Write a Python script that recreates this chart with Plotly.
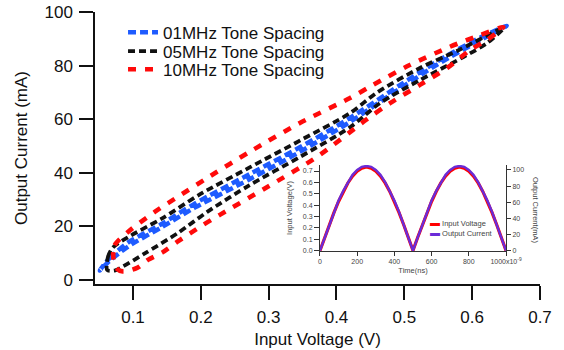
import plotly.graph_objects as go

# ---- Hysteresis loops: input voltage (V) vs output current (mA) ----
# each loop: upper branch left->right, then lower branch right->left
v01 = [0.051, 0.065, 0.093, 0.143, 0.191, 0.272, 0.346, 0.42, 0.494, 0.548, 0.612, 0.651,
       0.612, 0.548, 0.494, 0.42, 0.346, 0.272, 0.191, 0.143, 0.093, 0.065, 0.051]
i01 = [3.5, 8.0, 14.0, 21.0, 28.5, 39.5, 49.5, 60.5, 72.8, 81.5, 90.5, 94.8,
       89.5, 80.3, 71.5, 59.0, 47.8, 37.6, 27.0, 19.8, 12.5, 7.0, 3.5]

v05 = [0.062, 0.063, 0.07, 0.093, 0.143, 0.199, 0.272, 0.346, 0.42, 0.46, 0.523, 0.582, 0.646,
       0.622, 0.587, 0.523, 0.464, 0.42, 0.346, 0.272, 0.21, 0.166, 0.118, 0.085, 0.073, 0.062]
i05 = [3.7, 8.5, 12.0, 16.0, 23.0, 32.0, 42.0, 52.0, 62.3, 70.0, 79.1, 86.0, 94.0,
       88.4, 83.2, 74.6, 66.0, 57.0, 45.9, 35.4, 25.5, 17.5, 10.0, 5.0, 3.5, 3.7]

v10 = [0.071, 0.073, 0.093, 0.132, 0.172, 0.209, 0.272, 0.346, 0.42, 0.454, 0.508, 0.567, 0.612, 0.646,
       0.622, 0.597, 0.563, 0.523, 0.479, 0.445, 0.371, 0.298, 0.228, 0.203, 0.165, 0.144, 0.122,
       0.106, 0.085, 0.075, 0.071]
i10 = [8.6, 13.0, 18.0, 25.4, 32.0, 38.0, 47.8, 58.6, 67.9, 72.8, 80.2, 87.0, 91.4, 94.4,
       89.6, 85.8, 79.1, 72.8, 66.0, 60.0, 45.9, 34.7, 24.3, 20.5, 14.2, 10.4, 7.5,
       4.5, 3.2, 4.5, 8.6]

series_names = ["01MHz Tone Spacing", "05MHz Tone Spacing", "10MHz Tone Spacing"]

x_ticks = [0.1, 0.2, 0.3, 0.4, 0.5, 0.6, 0.7]
y_ticks = [0, 20, 40, 60, 80, 100]

# ---- Inset: time-domain waveforms ----
t_ns = [0, 25, 50, 75, 100, 125, 150, 175, 200, 225, 250, 275, 300, 325, 350, 375, 400, 425, 450, 475,
        500, 525, 550, 575, 600, 625, 650, 675, 700, 725, 750, 775, 800, 825, 850, 875, 900, 925, 950,
        975, 1000]
v_in = [0.0, 0.115, 0.227, 0.334, 0.432, 0.52, 0.595, 0.655, 0.699, 0.726, 0.735, 0.726, 0.699, 0.655,
        0.595, 0.52, 0.432, 0.334, 0.227, 0.115, 0.0, 0.115, 0.227, 0.334, 0.432, 0.52, 0.595, 0.655,
        0.699, 0.726, 0.735, 0.726, 0.699, 0.655, 0.595, 0.52, 0.432, 0.334, 0.227, 0.115, 0.0]
i_out = [0, 16, 32, 48, 62, 74, 85, 94, 100, 104, 105, 104, 100, 94, 85, 74, 62, 48, 32, 16,
         0, 16, 32, 48, 62, 74, 85, 94, 100, 104, 105, 104, 100, 94, 85, 74, 62, 48, 32, 16, 0]

t_ticks = [0, 200, 400, 600, 800, 1000]
t_labels = ["0", "200", "400", "600", "800", "1000x10<sup>-9</sup>"]
vin_ticks = [0.0, 0.1, 0.2, 0.3, 0.4, 0.5, 0.6, 0.7]
vin_labels = ["0.0", "0.1", "0.2", "0.3", "0.4", "0.5", "0.6", "0.7"]
iout_ticks = [0, 20, 40, 60, 80, 100]

FONT = "Liberation Sans, Arial, Helvetica, sans-serif"
AX = "#111111"
INSET_TXT = "#444444"
RED_IN = "#FF0000"
PURPLE_OUT = "#6A2BD8"

fig = go.Figure()

styles = [
    ("#1E5BFF", "8px,4px", 4.5, "legend"),
    ("#111111", "7px,4px", 3.8, "legend2"),
    ("#FF0A0A", "8px,9px", 4.6, "legend3"),
]
for name, xs, ys, (col, dash, w, lg) in zip(series_names, [v01, v05, v10], [i01, i05, i10], styles):
    fig.add_trace(go.Scatter(
        x=xs, y=ys, mode="lines", name=name, legend=lg,
        line=dict(color=col, dash=dash, width=w, shape="spline", smoothing=0.8),
        xaxis="x", yaxis="y",
    ))

fig.add_trace(go.Scatter(x=t_ns, y=v_in, mode="lines", name="Input Voltage", showlegend=False,
                         line=dict(color=RED_IN, width=3.2), xaxis="x2", yaxis="y2"))
fig.add_trace(go.Scatter(x=t_ns, y=i_out, mode="lines", name="Output Current", showlegend=False,
                         line=dict(color=PURPLE_OUT, width=2.4), xaxis="x2", yaxis="y3"))

legend_common = dict(x=0.063, xanchor="left", yanchor="middle", bgcolor="rgba(0,0,0,0)",
                     font=dict(family=FONT, size=17, color="#111"), itemwidth=30)

inset_key = (f"<span style='font-size:10px;color:{RED_IN}'>▬</span> Input Voltage<br>"
             f"<span style='font-size:10px;color:{PURPLE_OUT}'>▬</span> Output Current")

fig.update_layout(
    width=564, height=350,
    margin=dict(l=95, r=24, t=12, b=66, autoexpand=False),
    paper_bgcolor="white", plot_bgcolor="rgba(0,0,0,0)",
    font=dict(family=FONT, size=17, color="#111"),
    legend=dict(y=0.924, **legend_common),
    legend2=dict(y=0.8545, **legend_common),
    legend3=dict(y=0.788, **legend_common),
    xaxis=dict(
        domain=[0, 1], range=[0.044, 0.7], anchor="y", automargin=False,
        tickvals=x_ticks, ticktext=[f"{v:.1f}" for v in x_ticks],
        showline=True, linecolor=AX, linewidth=1.5,
        ticks="outside", ticklen=14, tickwidth=1.5, tickcolor=AX, ticklabelstandoff=3,
        showgrid=False, zeroline=False,
        tickfont=dict(size=17), title=dict(text="Input Voltage (V)", font=dict(size=17), standoff=7),
    ),
    yaxis=dict(
        domain=[0, 1], range=[-1.5, 100], anchor="x", automargin=False,
        tickvals=y_ticks, ticktext=[str(v) for v in y_ticks],
        showline=True, linecolor=AX, linewidth=1.5,
        ticks="outside", ticklen=14, tickwidth=1.5, tickcolor=AX, ticklabelstandoff=3,
        showgrid=False, zeroline=False,
        tickfont=dict(size=17), title=dict(text="Output Current (mA)", font=dict(size=17), standoff=13),
    ),
    xaxis2=dict(
        domain=[0.5056, 0.9236], range=[0, 1000], anchor="y2", automargin=False,
        tickvals=t_ticks, ticktext=t_labels,
        showline=True, linecolor="#333", linewidth=1,
        ticks="outside", ticklen=4, tickwidth=1, tickcolor="#333",
        showgrid=False, zeroline=False,
        tickfont=dict(size=7, color=INSET_TXT),
        title=dict(text="Time(ns)", font=dict(size=7.5, color=INSET_TXT), standoff=3),
    ),
    yaxis2=dict(
        domain=[0.1213, 0.4375], range=[-0.004, 0.753], anchor="x2", automargin=False,
        tickvals=vin_ticks, ticktext=vin_labels,
        showline=True, linecolor="#333", linewidth=1,
        ticks="outside", ticklen=5, tickwidth=1, tickcolor="#333",
        showgrid=False, zeroline=False,
        tickfont=dict(size=7, color=INSET_TXT),
        title=dict(text="Input Voltage(V)", font=dict(size=7.5, color=INSET_TXT), standoff=9),
    ),
    yaxis3=dict(
        range=[-0.6, 106.2], anchor="x2", overlaying="y2", side="right", automargin=False,
        tickvals=iout_ticks, ticktext=[str(v) for v in iout_ticks],
        showline=True, linecolor="#333", linewidth=1,
        ticks="outside", ticklen=4, tickwidth=1, tickcolor="#333",
        showgrid=False, zeroline=False,
        tickfont=dict(size=7, color=INSET_TXT),
    ),
    annotations=[
        dict(text="Output Current(mA)", textangle=90, x=0.991, y=0.272, xref="paper", yref="paper",
             xanchor="center", yanchor="middle",
             showarrow=False, font=dict(size=7.5, color=INSET_TXT, family=FONT)),
        dict(text=inset_key, align="left",
             x=0.748, y=0.206, xref="paper", yref="paper", xanchor="left", yanchor="middle",
             showarrow=False, font=dict(size=7.5, color=INSET_TXT, family=FONT)),
    ],
)

fig.write_html("out.html")
